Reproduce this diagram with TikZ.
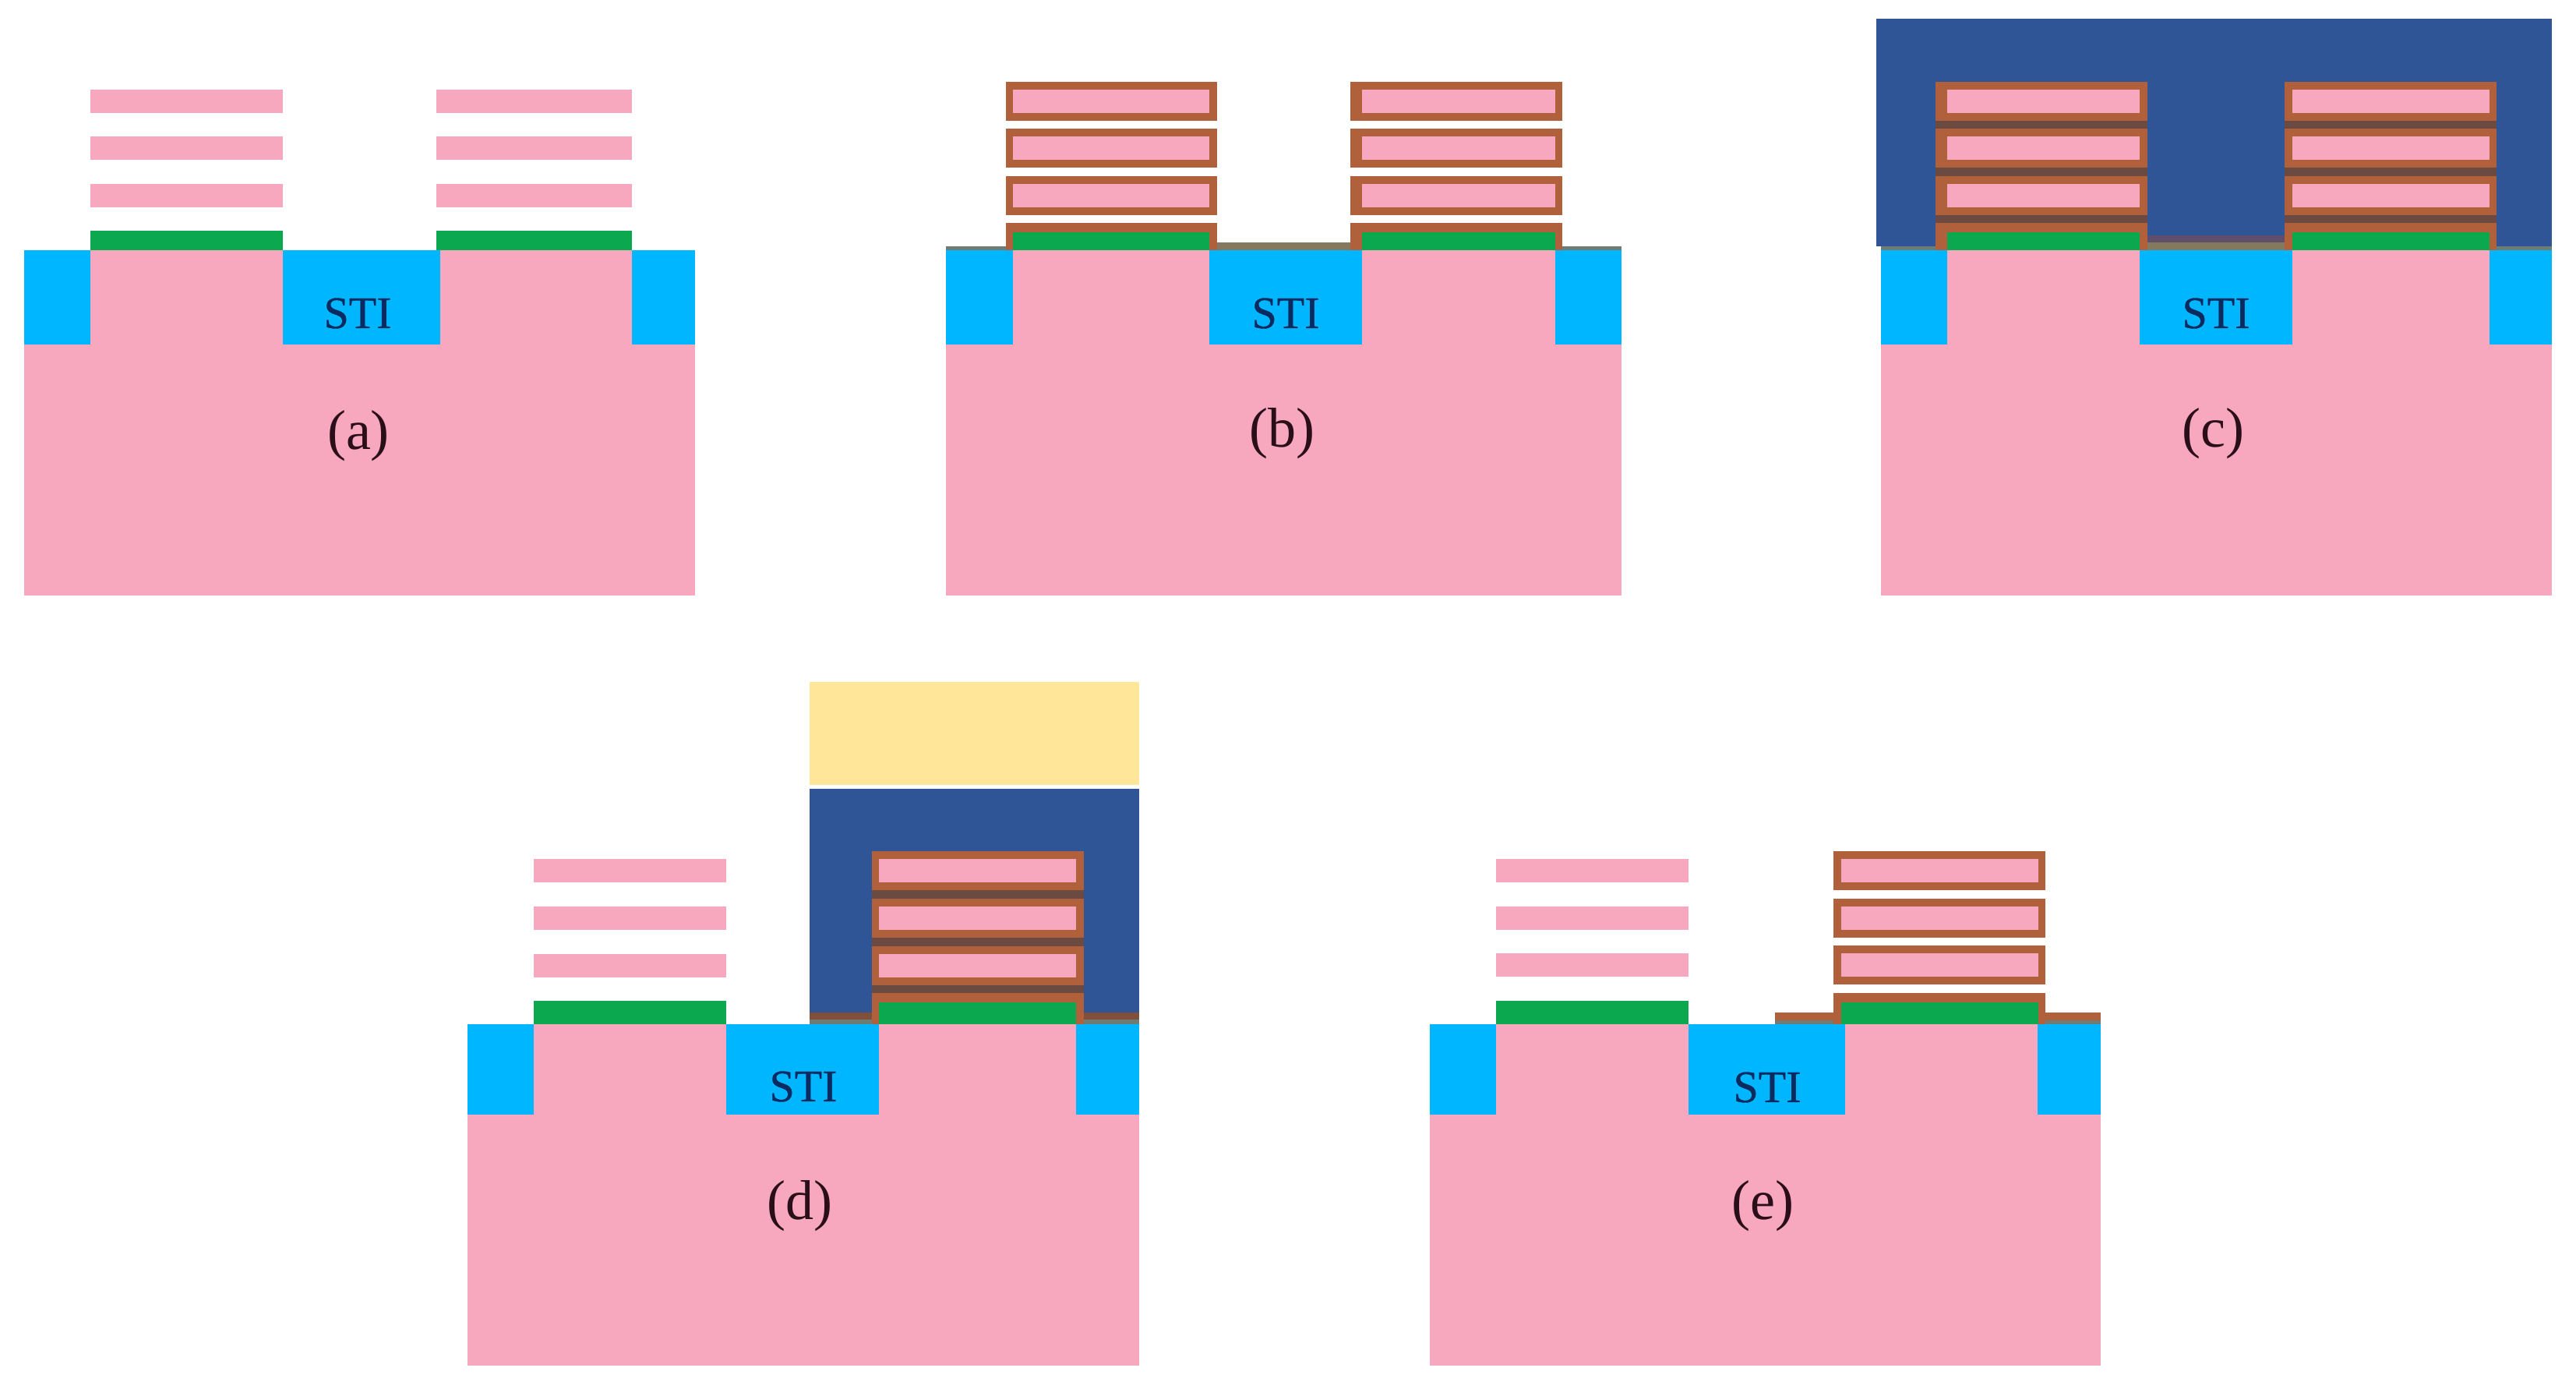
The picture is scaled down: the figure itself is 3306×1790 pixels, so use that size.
\documentclass[tikz,border=0pt]{standalone}
\usepackage{fontspec}
\setmainfont{Liberation Serif}
\definecolor{sipink}{HTML}{F8A8BE}
\definecolor{sticyan}{HTML}{00B7FF}
\definecolor{oxgreen}{HTML}{0BA84F}
\definecolor{liner}{HTML}{B0603A}
\definecolor{fillblue}{HTML}{2F5597}
\definecolor{resist}{HTML}{FFE699}
\definecolor{gapdark}{HTML}{6B4A42}
\definecolor{linergrey}{HTML}{6F7C74}
\definecolor{linermid}{HTML}{84785F}
\definecolor{linerpurple}{HTML}{5F4F6A}
\definecolor{linerdark}{HTML}{80503A}
\definecolor{stitext}{HTML}{0A2A60}
\definecolor{captext}{HTML}{2A0F1A}
\tikzset{
  stilabel/.style={inner sep=0pt,text=stitext,draw=none,font=\fontsize{14.5pt}{17pt}\selectfont\addfontfeature{FakeBold=0.6}},
  caplabel/.style={inner sep=0pt,text=captext,font=\fontsize{18pt}{21pt}\selectfont}
}
% #1 colour, corners (#2,#3) and (#4,#5)
\newcommand{\blk}[5]{\fill[#1] (#2,#3) rectangle (#4,#5);}
% substrate: L, R, top of STI, bottom of STI, bottom of Si, s1,s2,s3,s4
\newcommand{\substrate}[9]{%
  \blk{sipink}{#1}{#3}{#2}{#5}%
  \blk{sticyan}{#1}{#3}{#6}{#4}%
  \blk{sticyan}{#7}{#3}{#8}{#4}%
  \blk{sticyan}{#9}{#3}{#2}{#4}}
% bare stack: x1,x2, three pink tops, green top, green bottom
\newcommand{\barestack}[7]{%
  \blk{sipink}{#1}{#3}{#2}{\numexpr#3+30\relax}%
  \blk{sipink}{#1}{#4}{#2}{\numexpr#4+30\relax}%
  \blk{sipink}{#1}{#5}{#2}{\numexpr#5+30\relax}%
  \blk{oxgreen}{#1}{#6}{#2}{#7}}
% lined sheet: outer x1,x2, inner x1,x2, wall tops a,b,c,d, bottom
\newcommand{\linedstack}[9]{%
  \def\qa{#1}\def\qb{#2}\def\qc{#3}\def\qd{#4}\def\qe{#5}\def\qf{#6}\def\qg{#7}\def\qh{#8}\def\qi{#9}%
  \blk{liner}{\qa}{\qe}{\qb}{\numexpr\qe+50\relax}%
  \blk{liner}{\qa}{\qf}{\qb}{\numexpr\qf+50\relax}%
  \blk{liner}{\qa}{\qg}{\qb}{\numexpr\qg+50\relax}%
  \blk{liner}{\qa}{\qh}{\qb}{\qi}%
  \blk{sipink}{\qc}{\numexpr\qe+10\relax}{\qd}{\numexpr\qe+40\relax}%
  \blk{sipink}{\qc}{\numexpr\qf+10\relax}{\qd}{\numexpr\qf+40\relax}%
  \blk{sipink}{\qc}{\numexpr\qg+10\relax}{\qd}{\numexpr\qg+40\relax}%
  \blk{oxgreen}{\qc}{\numexpr\qh+12\relax}{\qd}{\qi}}
\begin{document}
\begin{tikzpicture}[x=0.25pt,y=-0.25pt]
\useasboundingbox (0,0) rectangle (3306,1790);
\fill[white] (0,0) rectangle (3306,1790);

% ---------- (a)
\substrate{31}{892}{321}{442}{764}{116}{363}{565}{811}
\barestack{116}{363}{115}{175}{236}{296}{321}
\barestack{560}{811}{115}{175}{236}{296}{321}
\node[stilabel] (stia) at (459,402) {STI};
\node[caplabel] (capa) at (460,559) {(a)};

% ---------- (b)
\substrate{1214}{2081}{321}{442}{764}{1300}{1552}{1748}{1996}
\blk{linergrey}{1214}{316}{1291}{321}
\blk{linergrey}{2005}{316}{2081}{321}
\blk{linermid}{1552}{311}{1748}{321}
\linedstack{1291}{1562}{1300}{1552}{105}{165}{226}{286}{321}
\linedstack{1733}{2005}{1748}{1996}{105}{165}{226}{286}{321}
\node[stilabel] (stib) at (1650,402) {STI};
\node[caplabel] (capb) at (1645,556) {(b)};

% ---------- (c)
\substrate{2414}{3275}{321}{442}{764}{2499}{2746}{2942}{3195}
\blk{fillblue}{2408}{24}{3275}{316}
\blk{linergrey}{2414}{316}{2484}{321}
\blk{linergrey}{3204}{316}{3275}{321}
\blk{linerpurple}{2746}{302}{2942}{311}
\blk{linermid}{2746}{311}{2942}{321}
\blk{gapdark}{2484}{155}{2756}{286}
\blk{gapdark}{2932}{155}{3204}{286}
\linedstack{2484}{2756}{2499}{2746}{105}{165}{226}{286}{321}
\linedstack{2932}{3204}{2942}{3195}{105}{165}{226}{286}{321}
\node[stilabel] (stic) at (2844,402) {STI};
\node[caplabel] (capc) at (2840,556) {(c)};

% ---------- (d)
\substrate{600}{1462}{1314}{1430}{1752}{685}{932}{1128}{1381}
\barestack{685}{932}{1102}{1163}{1224}{1284}{1314}
\blk{resist}{1039}{875}{1462}{1007}
\blk{fillblue}{1039}{1012}{1462}{1299}
\blk{linerdark}{1039}{1299}{1119}{1308}
\blk{linerdark}{1391}{1299}{1462}{1308}
\blk{linergrey}{1039}{1308}{1119}{1314}
\blk{linergrey}{1391}{1308}{1462}{1314}
\blk{gapdark}{1119}{1142}{1391}{1274}
\linedstack{1119}{1391}{1128}{1381}{1092}{1153}{1214}{1274}{1314}
\node[stilabel] (stid) at (1031,1394) {STI};
\node[caplabel] (capd) at (1026,1547) {(d)};

% ---------- (e)
\substrate{1835}{2696}{1314}{1430}{1752}{1920}{2167}{2368}{2615}
\barestack{1920}{2167}{1102}{1163}{1223}{1284}{1314}
\blk{liner}{2278}{1299}{2353}{1309}
\blk{liner}{2625}{1299}{2696}{1309}
\blk{linergrey}{2278}{1309}{2353}{1314}
\blk{linergrey}{2625}{1309}{2696}{1314}
\linedstack{2353}{2625}{2363}{2616}{1092}{1153}{1213}{1274}{1314}
\node[stilabel] (stie) at (2268,1395) {STI};
\node[caplabel] (cape) at (2262,1547) {(e)};
\end{tikzpicture}
\end{document}
